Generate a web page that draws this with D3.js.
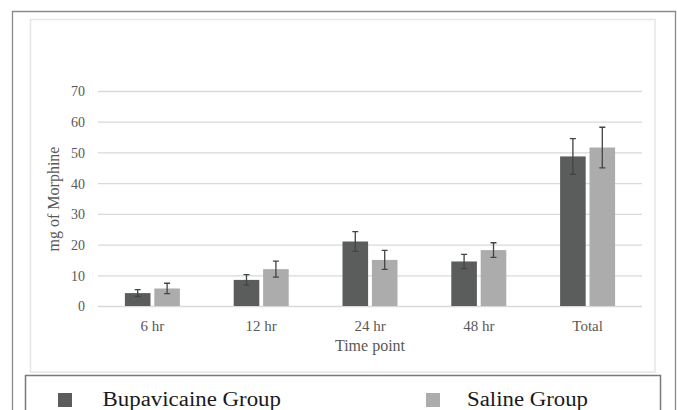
<!doctype html>
<html>
<head>
<meta charset="utf-8"/>
<script src="https://cdnjs.cloudflare.com/ajax/libs/d3/7.8.5/d3.min.js"></script>
<style>
  body { margin: 0; background: #fff; }
  svg { display: block; }
</style>
</head>
<body>
<svg width="677" height="410"></svg>
<script>
var timePoints = ["6 hr", "12 hr", "24 hr", "48 hr", "Total"];
var seriesNames = ["Bupavicaine Group", "Saline Group"];
var bupaMeans = [4.2, 8.5, 21.0, 14.5, 48.7];
var bupaErr = [1.1, 1.7, 3.2, 2.3, 5.8];
var salineMeans = [5.7, 12.0, 15.0, 18.2, 51.6];
var salineErr = [1.7, 2.6, 3.1, 2.4, 6.6];
var yTicks = [0, 10, 20, 30, 40, 50, 60, 70];
var colors = ["#5b5d5c", "#acacac"];

var svg = d3.select("svg");

// outer frame and inner chart panel
svg.append("path").attr("d", "M12.5,410 V11.5 H675.5 V410")
  .attr("fill", "none").attr("stroke", "#8a8a8a").attr("stroke-width", 1.3);
svg.append("rect").attr("x", 30.5).attr("y", 19.5).attr("width", 624.5).attr("height", 352.5)
  .attr("fill", "#fff").attr("stroke", "#e6e6e6").attr("stroke-width", 1.5);

var margin = {left: 98, right: 642, top: 91, bottom: 306};

var x0 = d3.scaleBand().domain(timePoints).range([margin.left, margin.right]);
var x1 = d3.scaleBand().domain(seriesNames).range([0, 55]).paddingInner(0.13);
var y = d3.scaleLinear().domain([0, 70]).range([margin.bottom, margin.top]);

// gridlines + y labels
var yAxis = svg.append("g").attr("transform", "translate(" + margin.left + ",0)")
  .call(d3.axisLeft(y).tickValues(yTicks).tickSize(-(margin.right - margin.left)).tickPadding(13));
yAxis.select(".domain").remove();
yAxis.selectAll(".tick line").attr("stroke", "#d9d9d9").attr("stroke-width", 1.3);
yAxis.selectAll(".tick text").attr("dy", "0.35em")
  .attr("font-family", "Liberation Serif, serif").attr("font-size", 14).attr("fill", "#595959");

// x labels
var xAxis = svg.append("g").attr("transform", "translate(0," + margin.bottom + ")")
  .call(d3.axisBottom(x0).tickSize(0).tickPadding(14));
xAxis.select(".domain").remove();
xAxis.selectAll(".tick text")
  .attr("font-family", "Liberation Serif, serif").attr("font-size", 15).attr("fill", "#595959");

var rows = timePoints.map(function(t, i) {
  return {t: t, vals: [
    {s: seriesNames[0], v: bupaMeans[i], e: bupaErr[i], c: colors[0]},
    {s: seriesNames[1], v: salineMeans[i], e: salineErr[i], c: colors[1]}
  ]};
});

var grp = svg.append("g").selectAll("g").data(rows).enter().append("g")
  .attr("transform", function(d) { return "translate(" + (x0(d.t) + (x0.bandwidth() - 55) / 2) + ",0)"; });

var bar = grp.selectAll("g").data(function(d) { return d.vals; }).enter().append("g");

bar.append("rect")
  .attr("x", function(d) { return x1(d.s); })
  .attr("width", x1.bandwidth())
  .attr("y", function(d) { return y(d.v); })
  .attr("height", function(d) { return y(0) - y(d.v); })
  .attr("fill", function(d) { return d.c; });

// error bars
bar.append("path")
  .attr("d", function(d) {
    var cx = x1(d.s) + x1.bandwidth() / 2;
    var t = y(d.v + d.e), b = y(d.v - d.e);
    return "M" + cx + "," + t + "V" + b +
      "M" + (cx - 3) + "," + t + "H" + (cx + 3) +
      "M" + (cx - 3) + "," + b + "H" + (cx + 3);
  })
  .attr("fill", "none").attr("stroke", "#444").attr("stroke-width", 1.3);

// axis titles
svg.append("text").attr("x", (margin.left + margin.right) / 2).attr("y", 351)
  .attr("text-anchor", "middle").attr("font-family", "Liberation Serif, serif")
  .attr("font-size", 16).attr("fill", "#595959").text("Time point");
svg.append("text").attr("transform", "translate(59,199) rotate(-90)")
  .attr("text-anchor", "middle").attr("font-family", "Liberation Serif, serif")
  .attr("font-size", 16).attr("fill", "#595959").text("mg of Morphine");

// legend
svg.append("path").attr("d", "M25.5,410 V375.5 H660.5 V410")
  .attr("fill", "#fff").attr("stroke", "#7a7a7a").attr("stroke-width", 1.5);
var legX = [58, 426];
var legTextX = [102.5, 467];
var legW = [178.5, 121];
var leg = svg.append("g").selectAll("g").data(seriesNames).enter().append("g");
leg.append("rect")
  .attr("x", function(d, i) { return legX[i]; }).attr("y", 393)
  .attr("width", 14).attr("height", 14)
  .attr("fill", function(d, i) { return colors[i]; });
leg.append("text")
  .attr("x", function(d, i) { return legTextX[i]; }).attr("y", 406)
  .attr("font-family", "Liberation Serif, serif").attr("font-size", 20)
  .attr("textLength", function(d, i) { return legW[i]; })
  .attr("lengthAdjust", "spacingAndGlyphs")
  .attr("fill", "#1a1a1a")
  .text(function(d) { return d; });
</script>
</body>
</html>
